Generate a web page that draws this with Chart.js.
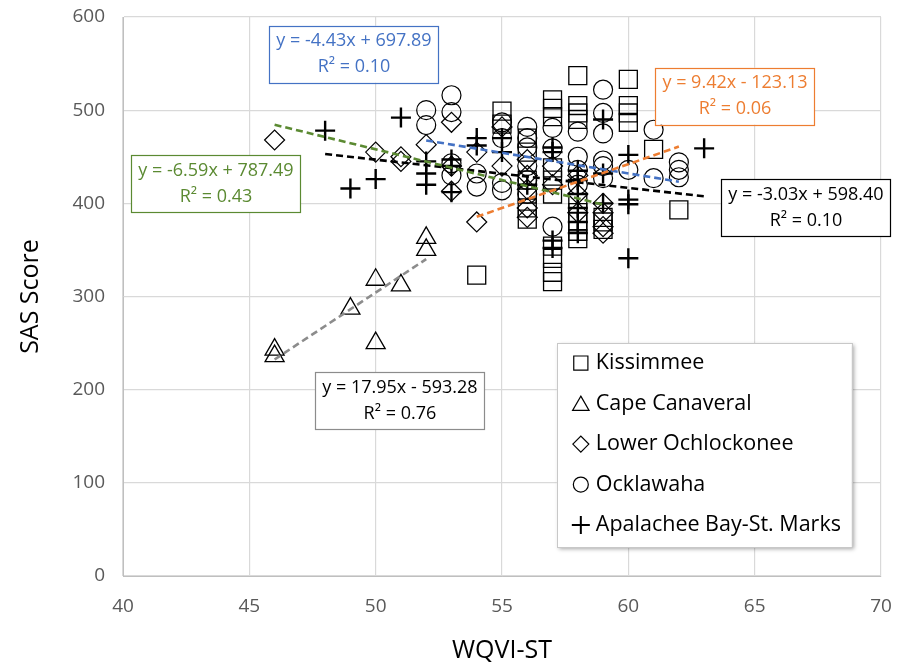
<!DOCTYPE html>
<html lang="en">
<head>
    <meta charset="UTF-8">
    <title>SAS Score vs WQVI-ST</title>
    <script src="https://cdn.jsdelivr.net/npm/chart.js"></script>
    <style>
        body {
            margin: 0;
            padding: 0;
            background: #ffffff;
        }
        canvas {
            display: block;
        }
    </style>
</head>
<body>
    <canvas id="sasChart" width="899" height="666"></canvas>
    <script>
        // Basin names, in legend order
        const basins = ["Kissimmee", "Cape Canaveral", "Lower Ochlockonee", "Ocklawaha", "Apalachee Bay-St. Marks"];

        // WQVI-ST (x) and SAS score (y) per basin
        const kissX = [54, 55, 55, 56, 56, 56, 56, 56, 56, 57, 57, 57, 57, 57, 57, 57, 57, 57, 57,
                       58, 58, 58, 58, 58, 58, 58, 58, 58, 59, 59, 59, 60, 60, 60, 60, 61, 62];
        const kissY = [323, 499, 485, 470, 455, 425, 410, 395, 383, 511, 502, 493, 438, 425, 410, 354, 341, 326, 316,
                       537, 505, 497, 490, 400, 390, 380, 370, 362, 385, 380, 372, 533, 505, 497, 487, 458, 393];

        const capeX = [46, 46, 49, 50, 50, 51, 52, 52];
        const capeY = [243, 236, 287, 318, 250, 312, 363, 350];

        const lowerX = [46, 50, 51, 51, 52, 53, 53, 53, 54, 54, 55, 55, 56, 56, 56, 56, 56, 57, 57, 58, 58, 58, 59, 59, 59, 59];
        const lowerY = [468, 455, 450, 445, 463, 487, 440, 413, 455, 380, 482, 440, 447, 430, 415, 395, 385, 440, 420, 430, 410, 390, 400, 390, 375, 368];

        const ockX = [52, 52, 53, 53, 53, 53, 54, 54, 55, 55, 55, 55, 56, 56, 56, 56, 56, 56, 57, 57, 57,
                      58, 58, 58, 58, 59, 59, 59, 59, 59, 59, 60, 61, 61, 62, 62, 62];
        const ockY = [500, 484, 516, 498, 443, 430, 432, 418, 487, 470, 422, 414, 482, 470, 460, 440, 425, 410, 481, 459, 375,
                      477, 450, 436, 420, 522, 497, 475, 446, 440, 427, 436, 479, 427, 444, 436, 428];

        const apaX = [48, 49, 50, 51, 52, 52, 52, 53, 53, 53, 54, 54, 55, 55, 56, 57, 57, 57, 57,
                      58, 58, 58, 58, 58, 58, 59, 59, 59, 60, 60, 60, 60, 63];
        const apaY = [478, 416, 426, 492, 445, 432, 420, 447, 440, 412, 470, 462, 470, 455, 420, 460, 455, 360, 352,
                      435, 425, 410, 395, 380, 368, 490, 432, 400, 452, 404, 399, 341, 459];

        // Linear fits, same order as basins
        const trendSlope = [9.42, 17.95, -6.59, -4.43, -3.03];
        const trendIntercept = [-123.13, -593.28, 787.49, 697.89, 598.40];
        const trendR2 = [0.06, 0.76, 0.43, 0.10, 0.10];

        // Axis ticks
        const xTicks = [40, 45, 50, 55, 60, 65, 70];
        const yTicks = [0, 100, 200, 300, 400, 500, 600];

        const seriesX = [kissX, capeX, lowerX, ockX, apaX];
        const seriesY = [kissY, capeY, lowerY, ockY, apaY];

        // marker look for each basin
        const markerStyle = [
            { pointStyle: "rect", radius: 12.7, width: 1.3, legendRadius: 10 },
            { pointStyle: "triangle", radius: 11, width: 1.3, legendRadius: 9.5 },
            { pointStyle: "rectRot", radius: 10, width: 1.2, legendRadius: 8 },
            { pointStyle: "circle", radius: 9.5, width: 1.2, legendRadius: 7.5 },
            { pointStyle: "cross", radius: 10, width: 2.4, legendRadius: 9 }
        ];
        const trendColor = ["#ED7D31", "#8C8C8C", "#5B8A32", "#4472C4", "#000000"];
        const textColor = ["#ED7D31", "#000000", "#5B8A32", "#4472C4", "#000000"];
        const boxBorder = ["#ED7D31", "#8C8C8C", "#5B8A32", "#4472C4", "#000000"];
        // where each equation box sits (center, in axis units)
        const boxAt = [
            { x: 64.22, y: 515 }, { x: 50.96, y: 188 }, { x: 43.68, y: 421 },
            { x: 49.14, y: 560 }, { x: 67.03, y: 395 }
        ];

        const FONT = "'Open Sans', 'Liberation Sans', sans-serif";

        const datasets = [];
        basins.forEach((name, i) => {
            const xs = seriesX[i];
            const ys = seriesY[i];
            datasets.push({
                type: "scatter",
                label: name,
                data: xs.map((x, k) => ({ x: x, y: ys[k] })),
                pointStyle: markerStyle[i].pointStyle,
                pointRadius: markerStyle[i].radius,
                pointBorderColor: "#000000",
                pointBackgroundColor: "rgba(0,0,0,0)",
                pointBorderWidth: markerStyle[i].width,
                order: 2
            });
        });
        // dashed fit lines, drawn over the markers
        basins.forEach((name, i) => {
            const xs = seriesX[i];
            const x0 = Math.min(...xs);
            const x1 = Math.max(...xs);
            datasets.push({
                type: "line",
                label: name + " fit",
                data: [
                    { x: x0, y: trendSlope[i] * x0 + trendIntercept[i] },
                    { x: x1, y: trendSlope[i] * x1 + trendIntercept[i] }
                ],
                borderColor: trendColor[i],
                borderWidth: 2.6,
                borderDash: [7, 4],
                pointRadius: 0,
                fill: false,
                order: 1
            });
        });

        function equationText(i) {
            const m = trendSlope[i];
            const b = trendIntercept[i];
            return "y = " + m.toFixed(2) + "x " + (b < 0 ? "- " : "+ ") + Math.abs(b).toFixed(2);
        }

        const equationBoxes = {
            id: "equationBoxes",
            afterDatasetsDraw(chart) {
                const ctx = chart.ctx;
                const xs = chart.scales.x;
                const ys = chart.scales.y;
                ctx.save();
                ctx.font = "18px " + FONT;
                ctx.textAlign = "center";
                ctx.textBaseline = "middle";
                basins.forEach((name, i) => {
                    const cx = xs.getPixelForValue(boxAt[i].x);
                    const cy = ys.getPixelForValue(boxAt[i].y);
                    const line1 = equationText(i);
                    const line2 = "R\u00B2 = " + trendR2[i].toFixed(2);
                    const w = ctx.measureText(line1).width + 14;
                    const h = 57;
                    ctx.fillStyle = "#ffffff";
                    ctx.fillRect(cx - w / 2, cy - h / 2, w, h);
                    ctx.strokeStyle = boxBorder[i];
                    ctx.lineWidth = 1.2;
                    ctx.strokeRect(Math.round(cx - w / 2) + 0.5, Math.round(cy - h / 2) + 0.5, Math.round(w), h);
                    ctx.fillStyle = textColor[i];
                    ctx.fillText(line1, cx, cy - 13);
                    ctx.fillText(line2, cx, cy + 13);
                });
                ctx.restore();
            }
        };

        // legend box inside the plot, lower right
        const basinLegend = {
            id: "basinLegend",
            afterDraw(chart) {
                const ctx = chart.ctx;
                const left = chart.scales.x.getPixelForValue(57.17);
                const top = chart.scales.y.getPixelForValue(250);
                const w = 295;
                const h = 204;
                ctx.save();
                ctx.shadowColor = "rgba(0,0,0,0.35)";
                ctx.shadowBlur = 4;
                ctx.shadowOffsetX = 2;
                ctx.shadowOffsetY = 2;
                ctx.fillStyle = "#ffffff";
                ctx.fillRect(left, top, w, h);
                ctx.restore();
                ctx.save();
                ctx.strokeStyle = "#c8c8c8";
                ctx.lineWidth = 1;
                ctx.strokeRect(Math.round(left) + 0.5, Math.round(top) + 0.5, w, h);
                ctx.font = "21.5px " + FONT;
                ctx.textBaseline = "middle";
                ctx.textAlign = "left";
                basins.forEach((name, i) => {
                    const y = top + 20 + i * 40.5;
                    ctx.strokeStyle = "#000000";
                    ctx.fillStyle = "rgba(0,0,0,0)";
                    ctx.lineWidth = i === 4 ? 2 : 1.2;
                    Chart.helpers.drawPoint(ctx, {
                        pointStyle: markerStyle[i].pointStyle,
                        radius: markerStyle[i].legendRadius,
                        rotation: 0,
                        borderWidth: ctx.lineWidth
                    }, left + 24, y + (i === 1 ? 2 : 0));
                    ctx.fillStyle = "#000000";
                    ctx.fillText(name, left + 39, y);
                });
                ctx.restore();
            }
        };

        const ctx = document.getElementById("sasChart").getContext("2d");
        new Chart(ctx, {
            type: "scatter",
            data: { datasets: datasets },
            options: {
                responsive: false,
                animation: false,
                events: [],
                devicePixelRatio: 1,
                layout: { padding: { top: 17, right: 18, left: 0, bottom: 0 } },
                plugins: {
                    legend: { display: false },
                    tooltip: { enabled: false }
                },
                scales: {
                    x: {
                        type: "linear",
                        min: 40,
                        max: 70,
                        afterBuildTicks: (scale) => { scale.ticks = xTicks.map(v => ({ value: v })); },
                        afterFit: (scale) => { scale.height = 90; },
                        // invisible tick marks give the label gap without widening the layout
                        grid: { color: "#d9d9d9", drawTicks: true, tickLength: 19, tickColor: "rgba(0,0,0,0)", lineWidth: 1.2 },
                        border: { color: "#bfbfbf" },
                        ticks: { color: "#595959", font: { family: FONT, size: 19 }, padding: 0 },
                        title: {
                            display: true,
                            text: "WQVI-ST",
                            color: "#000000",
                            font: { family: FONT, size: 25 },
                            padding: { top: 0, bottom: 0 }
                        }
                    },
                    y: {
                        type: "linear",
                        min: 0,
                        max: 600,
                        afterBuildTicks: (scale) => { scale.ticks = yTicks.map(v => ({ value: v })); },
                        afterFit: (scale) => { scale.width = 123; },
                        grid: { color: "#d9d9d9", drawTicks: true, tickLength: 18, tickColor: "rgba(0,0,0,0)", lineWidth: 1.2 },
                        border: { color: "#bfbfbf" },
                        ticks: { color: "#595959", font: { family: FONT, size: 19 }, padding: 0 },
                        title: {
                            display: true,
                            text: "SAS Score",
                            color: "#000000",
                            font: { family: FONT, size: 25 },
                            padding: { top: 16, bottom: 0 }
                        }
                    }
                }
            },
            plugins: [equationBoxes, basinLegend]
        });
    </script>
</body>
</html>
